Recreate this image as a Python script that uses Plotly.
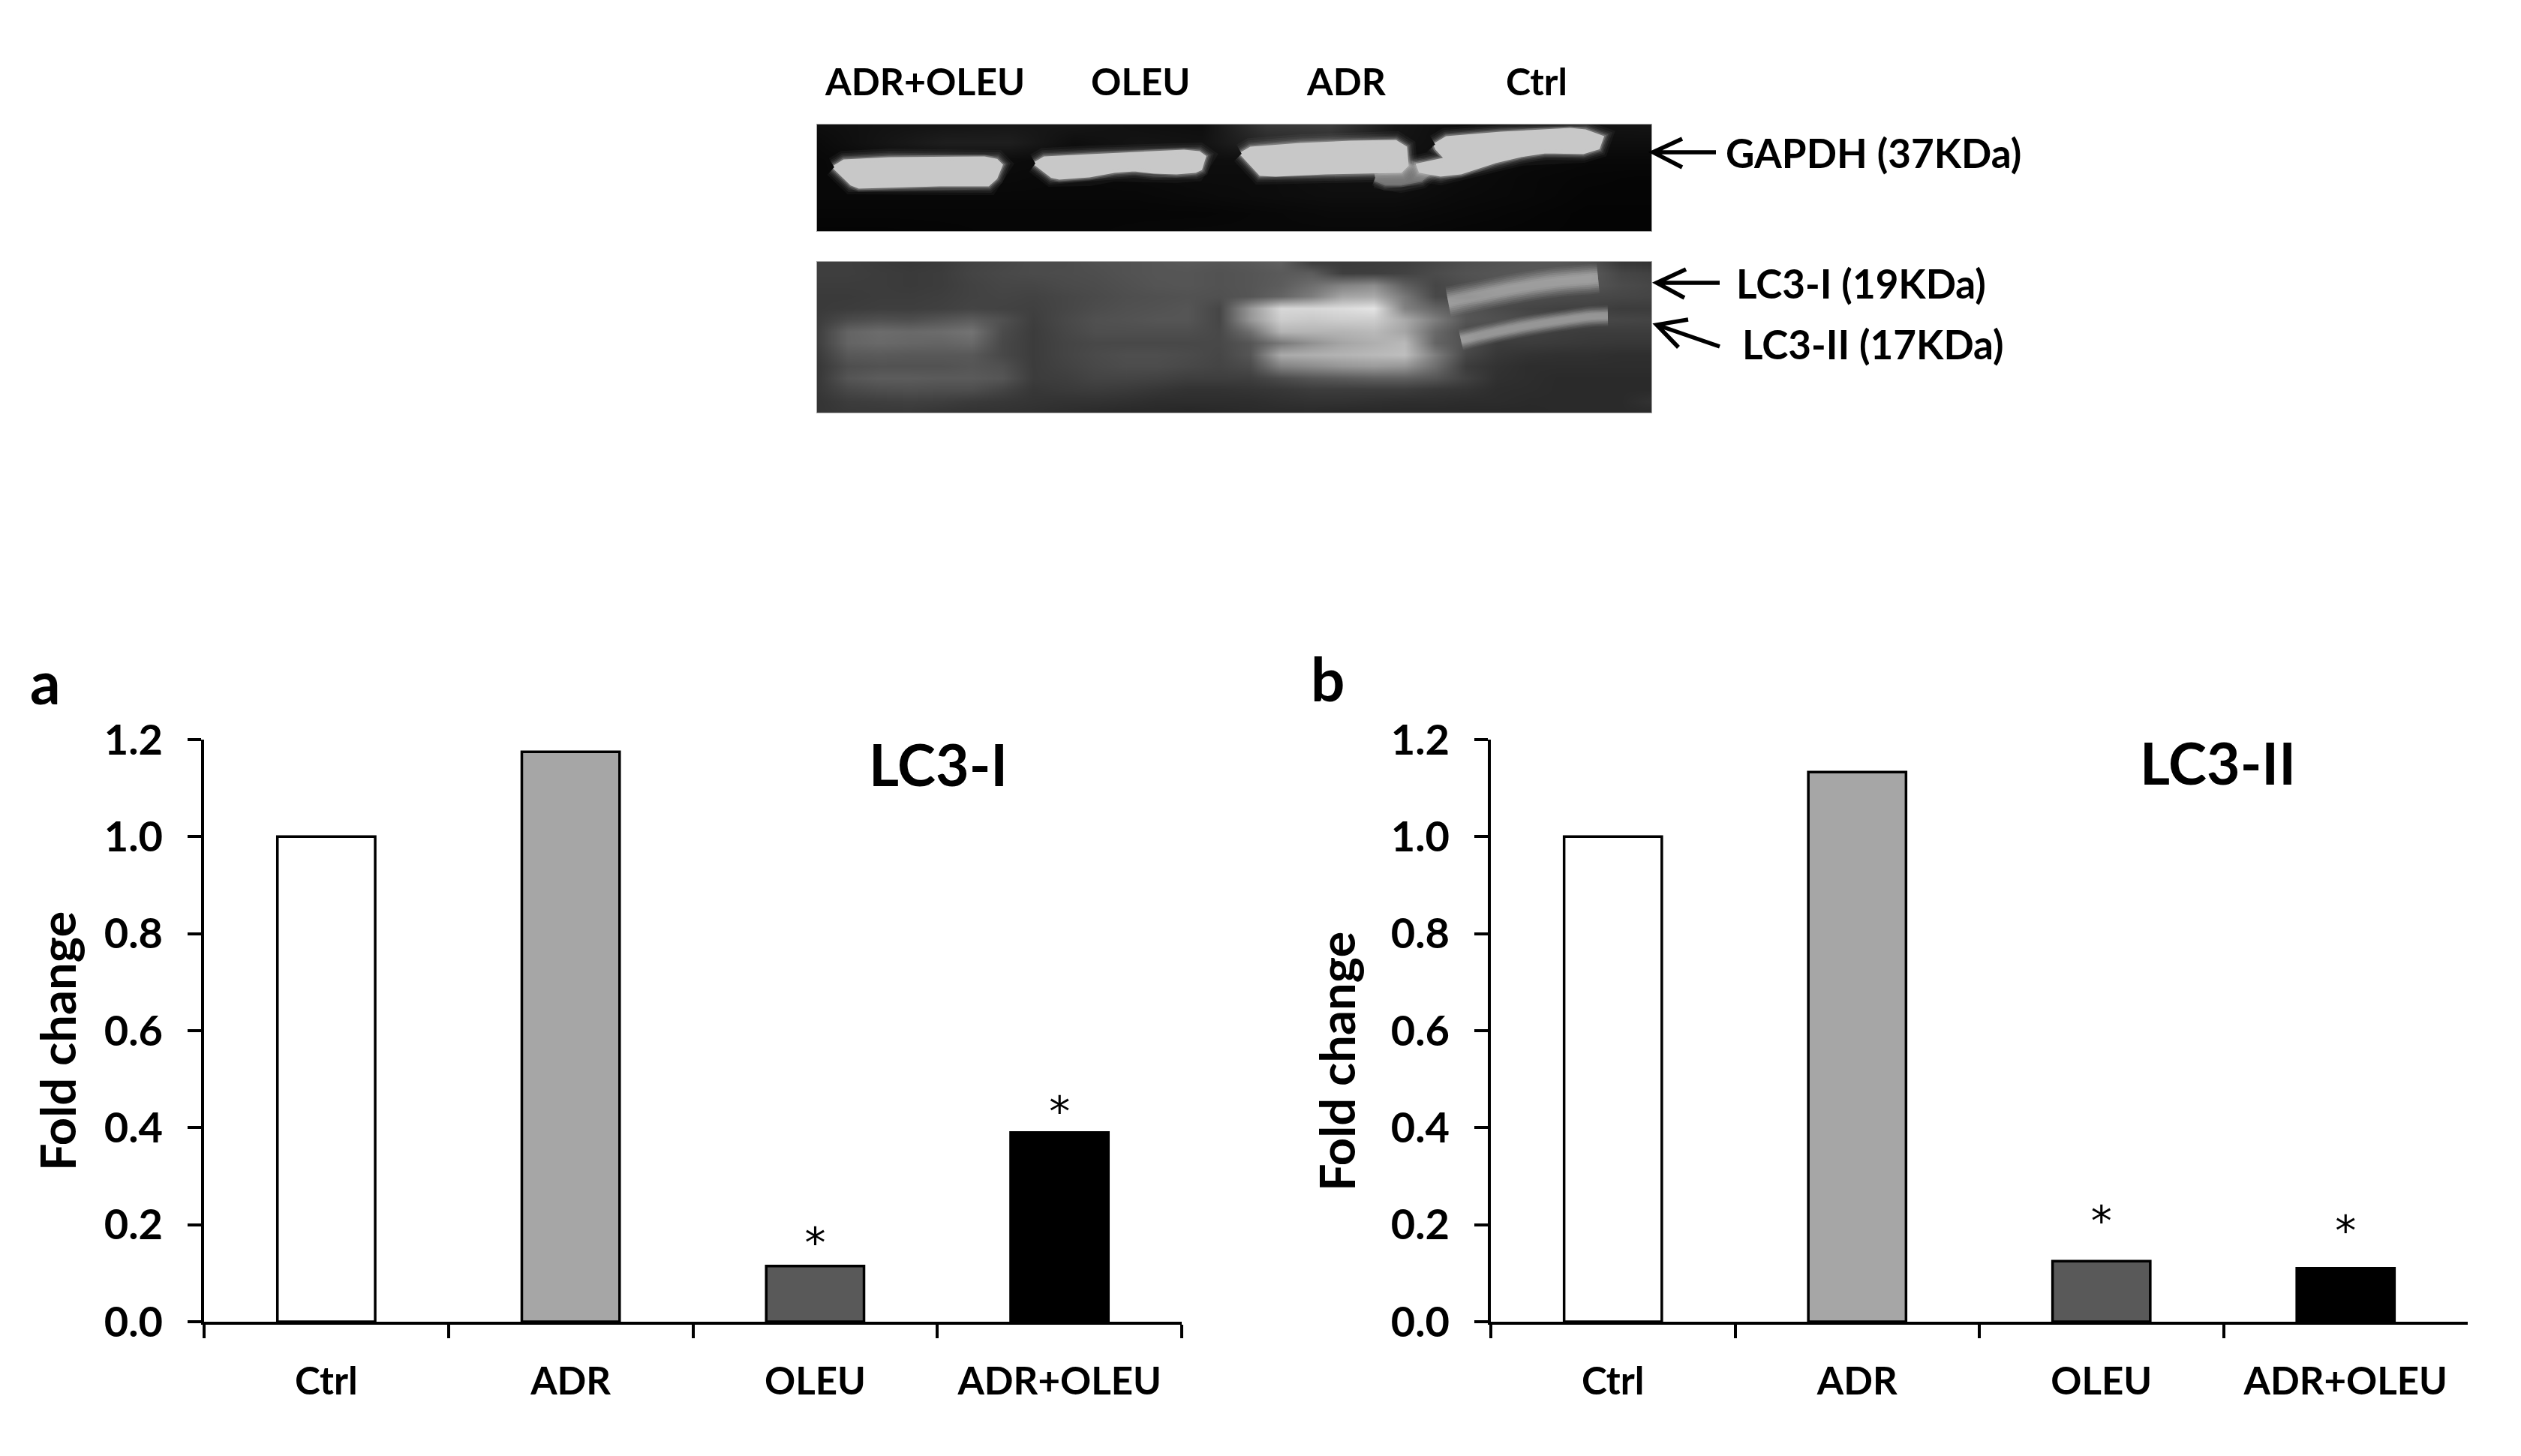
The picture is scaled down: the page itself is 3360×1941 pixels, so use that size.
import plotly.graph_objects as go

W, H = 3360, 1941

categories = ['Ctrl', 'ADR', 'OLEU', 'ADR+OLEU']
lc3_1_values = [1.0, 1.175, 0.115, 0.39]
lc3_2_values = [1.0, 1.133, 0.125, 0.11]
bar_colors = ['#ffffff', '#a6a6a6', '#595959', '#000000']
star_cats = ['OLEU', 'ADR+OLEU']
lc3_1_stars = [0.155, 0.425]
lc3_2_stars = [0.20, 0.18]

# blot pictures, grey levels (image pixels on both axes)
gapdh_bg_x = [1089, 1175, 1260, 1346, 1431, 1517, 1602, 1688, 1773, 1859, 1944, 2030, 2115, 2201]
gapdh_bg_y = [166, 190, 213, 237, 261, 284, 308]
gapdh_bg = [
    [14, 18, 20, 22, 22, 16, 14, 55, 60, 22, 12, 14, 18, 20],
    [10, 20, 30, 30, 14, 20, 18, 40, 45, 20, 12, 14, 14, 14],
    [8, 12, 12, 12, 10, 12, 14, 14, 14, 14, 14, 10, 8, 8],
    [8, 10, 10, 10, 8, 10, 12, 12, 16, 16, 12, 8, 6, 5],
    [8, 8, 8, 8, 8, 8, 10, 12, 14, 14, 10, 8, 5, 5],
    [6, 6, 6, 6, 6, 6, 6, 8, 10, 10, 8, 6, 4, 4],
    [4, 4, 5, 6, 6, 7, 8, 8, 8, 8, 6, 5, 4, 4],
]

band_adr_oleu_x = [1112, 1125, 1185, 1312, 1328, 1334, 1327, 1317, 1252, 1212, 1145, 1135, 1112]
band_adr_oleu_y = [223, 215, 212, 211, 214, 220, 237, 246, 246, 247, 249, 245, 223]
band_oleu_x = [1380, 1392, 1452, 1518, 1578, 1598, 1605, 1600, 1593, 1568, 1538, 1512, 1485, 1452, 1412, 1402, 1380]
band_oleu_y = [218, 211, 208, 205, 202, 204, 209, 225, 228, 230, 229, 226, 228, 234, 237, 235, 218]
band_adr_x = [1655, 1667, 1733, 1800, 1860, 1873, 1875, 1867, 1767, 1700, 1680, 1655]
band_adr_y = [205, 198, 193, 190, 189, 197, 220, 228, 230, 233, 232, 205]
band_ctrl_x = [1913, 1928, 2000, 2093, 2113, 2135, 2130, 2110, 2060, 2027, 1993, 1947, 1920, 1893, 1890, 1928, 1915, 1913]
band_ctrl_y = [193, 184, 178, 173, 175, 183, 197, 203, 202, 207, 215, 230, 233, 228, 220, 212, 198, 193]
smear_x = [1833, 1853, 1867, 1877, 1890, 1900, 1893, 1867, 1847, 1833]
smear_y = [237, 232, 229, 223, 225, 232, 238, 243, 243, 237]

lc3_bg_x = [1089 + 41.2 * i for i in range(28)]
lc3_bg_y = [349 + 15.46 * j for j in range(14)]
lc3_bg = [
    [62, 62, 58, 55, 58, 66, 70, 75, 75, 80, 82, 85, 88, 85, 88, 95, 60, 58, 60, 62, 70, 78, 82, 85, 85, 80, 55, 50],
    [62, 62, 60, 58, 60, 68, 72, 75, 76, 78, 82, 85, 85, 82, 85, 90, 92, 62, 62, 66, 75, 82, 85, 88, 90, 90, 70, 65],
    [60, 60, 60, 58, 60, 66, 70, 70, 74, 76, 80, 84, 85, 82, 85, 92, 110, 130, 140, 95, 70, 78, 85, 85, 85, 85, 75, 70],
    [58, 58, 60, 60, 62, 66, 68, 66, 70, 74, 78, 80, 82, 80, 85, 100, 125, 165, 170, 120, 72, 72, 80, 78, 75, 72, 70, 68],
    [58, 60, 62, 62, 64, 68, 66, 64, 70, 76, 80, 82, 85, 70, 150, 215, 215, 220, 228, 130, 100, 85, 75, 68, 65, 65, 60, 60],
    [60, 75, 80, 78, 85, 92, 80, 62, 72, 80, 82, 85, 85, 70, 150, 205, 200, 205, 205, 170, 125, 85, 80, 75, 72, 72, 70, 68],
    [62, 100, 108, 105, 108, 115, 75, 60, 70, 78, 78, 78, 78, 72, 110, 180, 180, 180, 185, 165, 105, 75, 72, 66, 62, 60, 60, 60],
    [62, 100, 105, 102, 100, 105, 72, 60, 68, 72, 72, 72, 72, 72, 85, 120, 145, 165, 175, 185, 100, 80, 60, 60, 58, 56, 55, 55],
    [58, 88, 90, 88, 88, 88, 72, 60, 68, 74, 78, 78, 75, 70, 85, 170, 175, 180, 185, 190, 125, 70, 55, 50, 48, 48, 46, 46],
    [55, 78, 82, 82, 82, 86, 80, 60, 66, 72, 76, 76, 72, 68, 75, 130, 140, 150, 155, 150, 110, 60, 50, 45, 45, 45, 45, 45],
    [55, 85, 92, 92, 90, 90, 85, 60, 62, 68, 68, 66, 62, 62, 62, 75, 85, 90, 95, 95, 85, 65, 48, 45, 42, 42, 42, 42],
    [55, 72, 78, 80, 78, 78, 68, 55, 58, 60, 58, 54, 50, 50, 52, 55, 60, 60, 60, 60, 55, 52, 45, 44, 42, 42, 42, 42],
    [52, 60, 62, 64, 62, 58, 55, 52, 50, 50, 48, 45, 45, 45, 45, 48, 50, 50, 48, 46, 46, 44, 44, 42, 42, 42, 42, 50],
    [52, 56, 56, 56, 52, 50, 50, 48, 45, 42, 40, 40, 38, 40, 42, 42, 42, 40, 40, 40, 40, 40, 40, 40, 42, 42, 42, 42],
]
ctrl_lc3_1_x = [1930, 1967, 2017, 2067, 2120, 2130]
ctrl_lc3_1_y = [402, 395, 385, 377, 372, 371]
ctrl_lc3_2_x = [1947, 1983, 2033, 2083, 2120, 2143]
ctrl_lc3_2_y = [453, 445, 435, 427, 422, 421]

FONT = 'Lato'
GREY = [[0, '#000000'], [1, '#ffffff']]
AXIS_W = 3.5


def xfrac(px):
    return px / W


def yfrac(py):
    return 1 - py / H


def add_text(fig, txt, px, py, size, anchor='center', angle=0, weight='bold', family=FONT):
    fig.add_annotation(
        text=txt, xref='paper', yref='paper', x=xfrac(px), y=yfrac(py),
        xanchor=anchor, yanchor='middle', showarrow=False, textangle=angle,
        font=dict(family=family, size=size, color='#000000', weight=weight),
    )


def add_arrow(fig, tip, tail, barb1, barb2):
    path = 'M{},{} L{},{} M{},{} L{},{} L{},{}'.format(
        xfrac(tail[0]), yfrac(tail[1]), xfrac(tip[0]), yfrac(tip[1]),
        xfrac(barb1[0]), yfrac(barb1[1]), xfrac(tip[0]), yfrac(tip[1]),
        xfrac(barb2[0]), yfrac(barb2[1]),
    )
    fig.add_shape(type='path', xref='paper', yref='paper', path=path,
                  line=dict(color='#000000', width=5.5))


def add_band(fig, xs, ys, color, axes):
    # soft halo first, the flat band on top
    for width, alpha in [(28, 0.05), (22, 0.07), (17, 0.1), (13, 0.16), (9, 0.3)]:
        fig.add_trace(go.Scatter(x=xs, y=ys, mode='lines', hoverinfo='skip',
                                 line=dict(color='rgba(200,200,200,{})'.format(alpha), width=width),
                                 xaxis=axes[0], yaxis=axes[1]))
    fig.add_trace(go.Scatter(x=xs, y=ys, mode='lines', fill='toself', fillcolor=color,
                             line=dict(color=color, width=5), hoverinfo='skip',
                             xaxis=axes[0], yaxis=axes[1]))


def add_soft_line(fig, xs, ys, axes, scale):
    layers = [(40, 0.05), (35, 0.07), (30, 0.09), (25, 0.11), (20, 0.13), (15, 0.13), (10, 0.08)]
    for width, alpha in layers:
        fig.add_trace(go.Scatter(x=xs, y=ys, mode='lines', hoverinfo='skip',
                                 line=dict(color='rgba(235,235,235,{})'.format(alpha), width=width * scale,
                                           shape='spline'),
                                 xaxis=axes[0], yaxis=axes[1]))


def blot_axes(x0, x1, y0, y1):
    common = dict(showgrid=False, zeroline=False, showticklabels=False, ticks='', automargin=False,
                  showline=True, mirror=True, linecolor='#a8a8a8', linewidth=1)
    xa = dict(domain=[xfrac(x0), xfrac(x1)], range=[x0, x1], **common)
    ya = dict(domain=[yfrac(y1), yfrac(y0)], range=[y1, y0], **common)
    return xa, ya


def bar_axes(x0, x1, y0, y1):
    xa = dict(domain=[xfrac(x0), xfrac(x1)], type='category', categoryorder='array',
              categoryarray=categories, range=[-0.5, 3.5], tickson='boundaries', automargin=False,
              ticks='outside', ticklen=18, tickwidth=AXIS_W, tickcolor='#000000',
              showline=True, linecolor='#000000', linewidth=AXIS_W, showgrid=False, zeroline=False,
              ticklabelstandoff=32, tickfont=dict(family=FONT, size=51, color='#000000', weight='bold'))
    ya = dict(domain=[yfrac(y1), yfrac(y0)], range=[0, 1.2], dtick=0.2, tickformat='.1f', automargin=False,
              ticks='outside', ticklen=18, tickwidth=AXIS_W, tickcolor='#000000',
              showline=True, linecolor='#000000', linewidth=AXIS_W, showgrid=False, zeroline=False,
              ticklabelstandoff=22, tickfont=dict(family=FONT, size=56, color='#000000', weight='bold'))
    return xa, ya


fig = go.Figure()

# GAPDH blot
fig.add_trace(go.Heatmap(x=gapdh_bg_x, y=gapdh_bg_y, z=gapdh_bg, zsmooth='best', zmin=0, zmax=255,
                         colorscale=GREY, showscale=False, hoverinfo='skip', xaxis='x', yaxis='y'))
add_band(fig, smear_x, smear_y, '#777777', ('x', 'y'))
for bx, by in [(band_adr_oleu_x, band_adr_oleu_y), (band_oleu_x, band_oleu_y),
               (band_adr_x, band_adr_y), (band_ctrl_x, band_ctrl_y)]:
    add_band(fig, bx, by, '#c8c8c8', ('x', 'y'))

# LC3 blot
fig.add_trace(go.Heatmap(x=lc3_bg_x, y=lc3_bg_y, z=lc3_bg, zsmooth='best', zmin=0, zmax=255,
                         colorscale=GREY, showscale=False, hoverinfo='skip', xaxis='x2', yaxis='y2'))
add_soft_line(fig, ctrl_lc3_1_x, ctrl_lc3_1_y, ('x2', 'y2'), 1.0)
add_soft_line(fig, ctrl_lc3_2_x, ctrl_lc3_2_y, ('x2', 'y2'), 0.7)

# bar panels
panels = [('x3', 'y3', lc3_1_values, lc3_1_stars), ('x4', 'y4', lc3_2_values, lc3_2_stars)]
for xa, ya, vals, stars in panels:
    fig.add_trace(go.Bar(x=categories, y=vals, width=0.4, xaxis=xa, yaxis=ya,
                         marker=dict(color=bar_colors, line=dict(color='#000000', width=AXIS_W))))
    fig.add_trace(go.Scatter(x=star_cats, y=stars, mode='text', text=['*', '*'], xaxis=xa, yaxis=ya,
                             textposition='middle center', hoverinfo='skip',
                             textfont=dict(family='DejaVu Sans', size=56, color='#000000')))

xa1, ya1 = blot_axes(1089, 2201, 166, 308)
xa2, ya2 = blot_axes(1089, 2201, 349, 550)
xa3, ya3 = bar_axes(272, 1575, 986, 1762)
xa4, ya4 = bar_axes(1987, 3289, 986, 1762)
fig.update_layout(
    width=W, height=H, margin=dict(l=0, r=0, t=0, b=0), paper_bgcolor='white', plot_bgcolor='rgba(0,0,0,0)',
    showlegend=False,
    xaxis=xa1, yaxis=ya1, xaxis2=xa2, yaxis2=ya2,
    xaxis3=xa3, yaxis3=ya3, xaxis4=xa4, yaxis4=ya4,
)
fig.update_layout(xaxis2_anchor='y2', yaxis2_anchor='x2', xaxis3_anchor='y3', yaxis3_anchor='x3',
                  xaxis4_anchor='y4', yaxis4_anchor='x4')

# lane labels and protein labels
add_text(fig, 'ADR+OLEU', 1232, 108, 50)
add_text(fig, 'OLEU', 1520, 108, 50)
add_text(fig, 'ADR', 1794, 108, 50)
add_text(fig, 'Ctrl', 2048, 108, 50)
add_text(fig, 'GAPDH (37KDa)', 2298, 203, 53, anchor='left')
add_text(fig, 'LC3-I (19KDa)', 2312, 377, 53, anchor='left')
add_text(fig, 'LC3-II (17KDa)', 2320, 458, 53, anchor='left')
add_arrow(fig, (2203, 203), (2287, 203), (2242, 185), (2242, 223))
add_arrow(fig, (2208, 377), (2292, 377), (2247, 359), (2245, 397))
add_arrow(fig, (2208, 433), (2292, 462), (2250, 426), (2237, 463))

add_text(fig, 'a', 60, 908, 80)
add_text(fig, 'b', 1769, 904, 80)
add_text(fig, 'LC3-I', 1250, 1018, 77)
add_text(fig, 'LC3-II', 2956, 1016, 77)
add_text(fig, 'Fold change', 76, 1388, 65, angle=-90)
add_text(fig, 'Fold change', 1781, 1415, 65, angle=-90)

fig.write_html("out.html", config={'displayModeBar': False},
               post_script="document.body.style.margin='0';")
